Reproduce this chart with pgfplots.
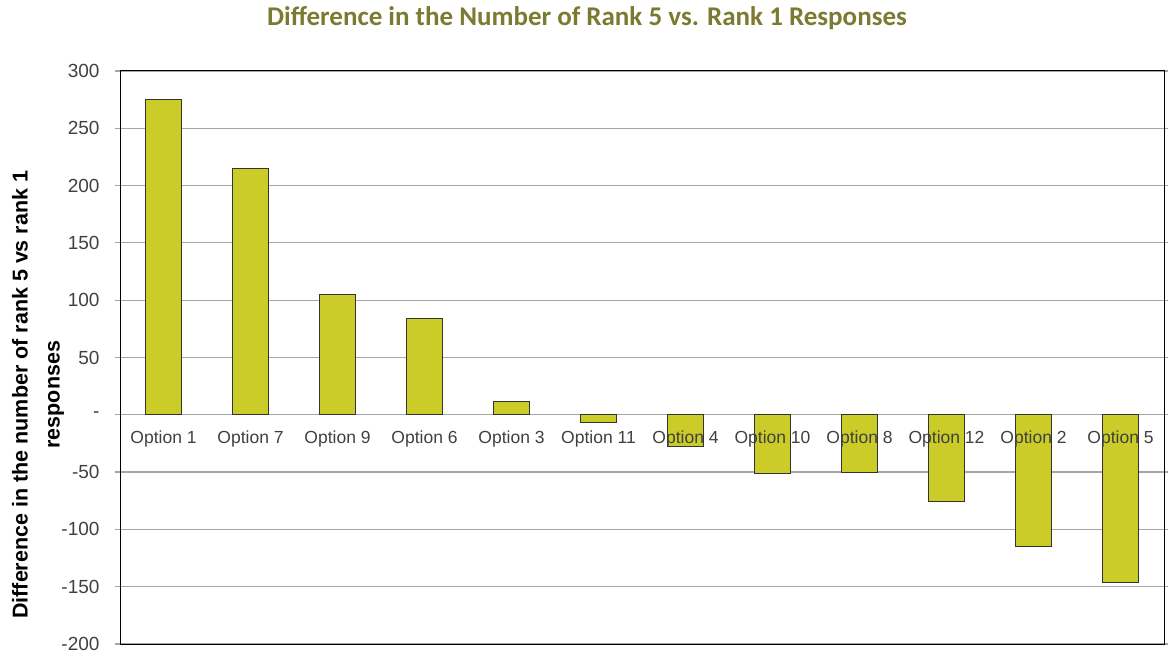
\documentclass[border=0pt]{standalone}
\usepackage{pgfplots}
\pgfplotsset{compat=1.18}
\usepackage{fontspec}
\setmainfont{Liberation Sans}
\newfontfamily\titlefont{Carlito}
\definecolor{barfill}{RGB}{204,204,41}
\definecolor{titlecol}{RGB}{122,122,48}
\definecolor{gridcol}{RGB}{166,166,166}
\definecolor{tickcol}{RGB}{64,64,64}
\begin{document}
\begin{tikzpicture}
\useasboundingbox (0,0) rectangle (1168bp,656bp);
\begin{axis}[
  at={(120bp,12bp)}, anchor=south west,
  scale only axis, width=1044bp, height=573bp,
  xmin=-0.5, xmax=11.5, ymin=-200, ymax=300,
  ybar, bar width=36bp, bar shift=0pt,
  xtick=\empty,
  ytick={-200,-150,...,300},
  yticklabels={-200,-150,-100,-50,-,50,100,150,200,250,300},
  yticklabel style={font=\fontsize{19bp}{22bp}\selectfont, text=tickcol, xshift=-12bp},
  ytick style={draw=gridcol, line width=1.2bp},
  tick align=outside, major tick length=5bp,
  ymajorgrids, grid style={draw=gridcol, line width=1.2bp},
  axis line style={draw=black, line width=1bp},
  ylabel={Difference in the number of rank 5 vs rank 1\\responses},
  ylabel style={font=\fontsize{21.5bp}{32bp}\selectfont\bfseries, align=center, at={(axis description cs:-0.0785,0.435)}, anchor=center},
]
\addplot[fill=barfill, draw=black!80, line width=1bp] coordinates {
(0,275) (1,215) (2,105) (3,84) (4,12) (5,-7) (6,-28) (7,-51) (8,-50) (9,-76) (10,-115) (11,-146)
};
\end{axis}
\begin{axis}[
  at={(120bp,12bp)}, anchor=south west,
  scale only axis, width=1044bp, height=573bp,
  xmin=-0.5, xmax=11.5, ymin=-200, ymax=300,
  axis line style={draw=none},
  ytick=\empty,
  xtick={0,...,11},
  xticklabels={Option 1,Option 7,Option 9,Option 6,Option 3,Option 11,Option 4,Option 10,Option 8,Option 12,Option 2,Option 5},
  xtick style={draw=none},
  xticklabel style={font=\fontsize{17.5bp}{20bp}\selectfont, text=tickcol, anchor=north, yshift=217bp},
]
\end{axis}
\node[font=\titlefont\bfseries\fontsize{27bp}{31bp}\selectfont, text=titlecol] at (587bp,638bp) {Difference in the Number of Rank 5 vs. Rank 1 Responses};
\end{tikzpicture}
\end{document}
